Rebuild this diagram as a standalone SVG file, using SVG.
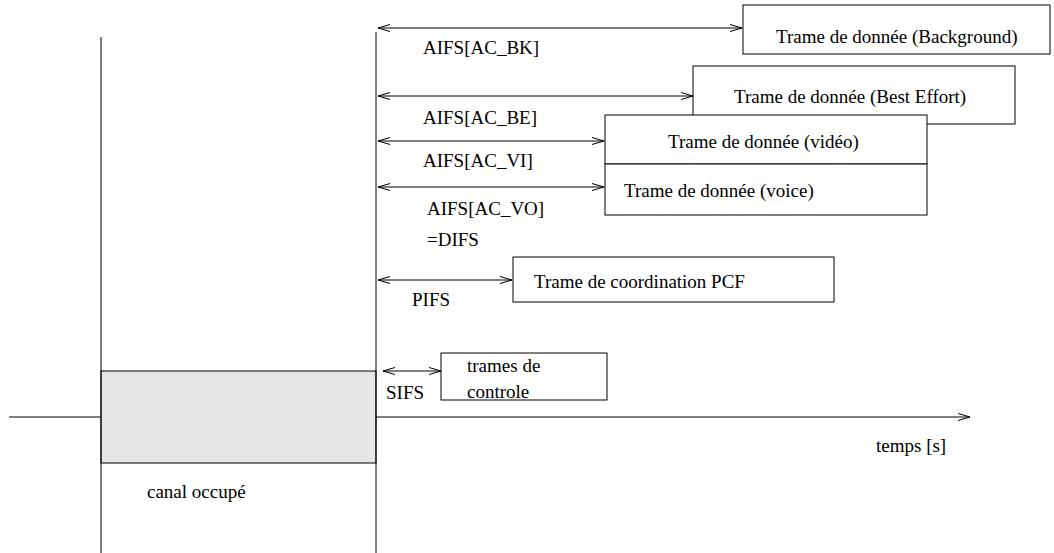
<svg xmlns="http://www.w3.org/2000/svg" width="1054" height="553" viewBox="0 0 1054 553">
<style>
text{font-family:"Liberation Serif","Times New Roman",serif;font-size:19px;fill:#000}
.box{fill:#fff;stroke:#000;stroke-width:1}
.ln{stroke:#000;stroke-width:1;fill:none}
.arr{stroke:#000;stroke-width:1;fill:none;marker-start:url(#ah);marker-end:url(#ah)}
</style>
<defs>
<marker id="ah" viewBox="0 0 12 8" refX="12" refY="4" markerWidth="12" markerHeight="8" markerUnits="userSpaceOnUse" orient="auto-start-reverse">
<path d="M0,0.5 L12,4 L0,7.5" fill="none" stroke="#000" stroke-width="1"/>
</marker>
</defs>
<g id="busy">
<rect x="101" y="371" width="275" height="92" fill="#e5e5e5" stroke="#000" stroke-width="1"/>
<text x="147" y="498">canal occupé</text>
</g>
<g id="axes">
<line class="ln" x1="101" y1="37" x2="101" y2="553" stroke="#777"/>
<line class="ln" x1="376" y1="32" x2="376" y2="553"/>
<line class="ln" x1="9" y1="417" x2="101" y2="417"/>
<line class="ln" x1="376" y1="417" x2="970" y2="417" marker-end="url(#ah)"/>
<text x="876" y="452">temps [s]</text>
</g>
<g id="bk">
<rect class="box" x="743" y="5" width="307" height="49"/>
<text x="776" y="43">Trame de donnée (Background)</text>
</g>
<g id="be">
<rect class="box" x="693" y="66" width="322" height="58"/>
<text x="734" y="103">Trame de donnée (Best Effort)</text>
</g>
<g id="vi">
<rect class="box" x="605" y="115" width="322" height="49"/>
<text x="668" y="148">Trame de donnée (vidéo)</text>
</g>
<g id="vo">
<rect class="box" x="605" y="164" width="322" height="51"/>
<text x="624" y="197">Trame de donnée (voice)</text>
</g>
<g id="pcf">
<rect class="box" x="513" y="257" width="321" height="45"/>
<text x="534" y="288">Trame de coordination PCF</text>
</g>
<g id="ctrl">
<rect class="box" x="441" y="353" width="166" height="47"/>
<text x="467" y="372">trames de</text>
<text x="467" y="398">controle</text>
</g>
<g id="connectors">
<line class="arr" x1="378" y1="28" x2="742" y2="28"/>
<line class="arr" x1="378" y1="96" x2="693" y2="96"/>
<line class="arr" x1="378" y1="141" x2="604" y2="141"/>
<line class="arr" x1="378" y1="187" x2="604" y2="187"/>
<line class="arr" x1="378" y1="280" x2="512" y2="280"/>
<line class="arr" x1="383" y1="371" x2="441" y2="371"/>
</g>
<g id="labels">
<text x="423" y="54">AIFS[AC_BK]</text>
<text x="423" y="124">AIFS[AC_BE]</text>
<text x="423" y="167">AIFS[AC_VI]</text>
<text x="427" y="215">AIFS[AC_VO]</text>
<text x="427" y="246">=DIFS</text>
<text x="412" y="306">PIFS</text>
<text x="386" y="399">SIFS</text>
</g>
</svg>
